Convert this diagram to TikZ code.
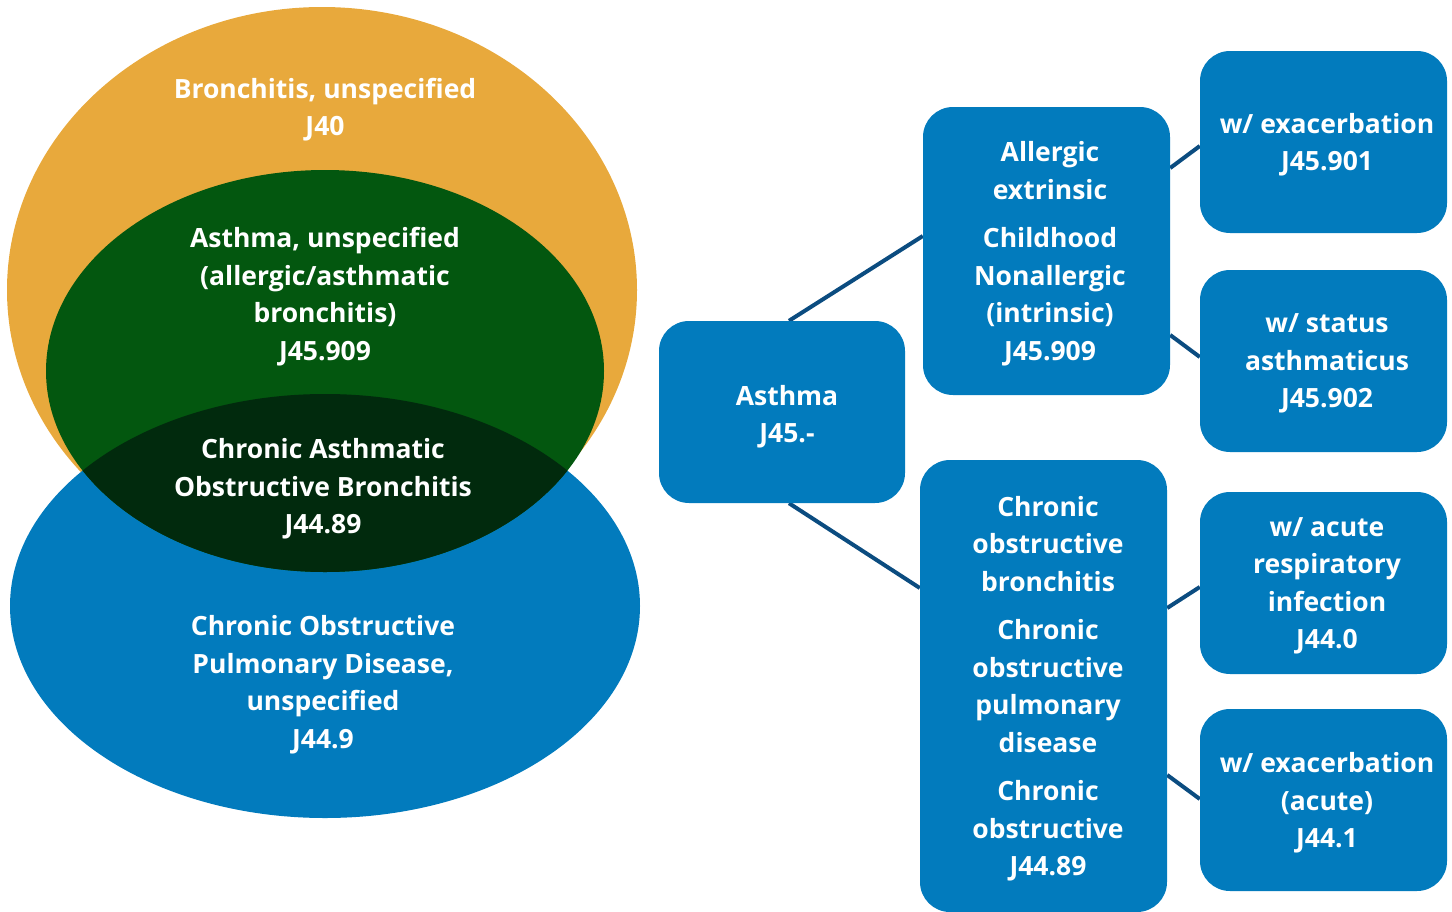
\documentclass[tikz,border=0pt]{standalone}
\usepackage{fontspec}
\setmainfont{Open Sans}
\usetikzlibrary{backgrounds}
\definecolor{orng}{HTML}{E8A93C}
\definecolor{grn}{HTML}{03570F}
\definecolor{dgrn}{HTML}{012A0D}
\definecolor{cblue}{HTML}{027BBD}
\definecolor{navy}{HTML}{0B4C80}
\tikzset{
 lbl/.style={text=white, font=\bfseries\fontsize{26.5}{37.5}\selectfont, align=center, inner sep=0pt, text depth=0pt},
 box/.style={fill=cblue, rounded corners=30pt, minimum width=247pt, minimum height=182pt, inner sep=0pt},
 link/.style={draw=navy, line width=4pt},
}
\begin{document}
\begin{tikzpicture}[x=1pt,y=-1pt]
\useasboundingbox (0,0) rectangle (1452,911);
% Venn diagram
\fill[orng] (322,290) ellipse [x radius=315pt, y radius=283pt];
\fill[cblue] (325,606) ellipse [x radius=315pt, y radius=212pt];
\fill[grn] (325,371) ellipse [x radius=279pt, y radius=201pt];
\begin{scope}
\clip (325,606) ellipse [x radius=315pt, y radius=212pt];
\fill[dgrn] (325,371) ellipse [x radius=279pt, y radius=201pt];
\end{scope}
\node[lbl] (bron) at (325,107) {Bronchitis, unspecified\\J40};
\node[lbl] (asu) at (325,294) {Asthma, unspecified\\(allergic/asthmatic\\bronchitis)\\J45.909};
\node[lbl] (caob) at (323,486) {Chronic Asthmatic\\Obstructive Bronchitis\\J44.89};
\node[lbl] (copdu) at (323,682) {Chronic Obstructive\\Pulmonary Disease,\\unspecified\\J44.9};
% tree boxes
\node[box, minimum width=246pt] (asthma) at (782,412) {};
\node[box, minimum height=288pt] (allergic) at (1046.5,251) {};
\node[box, minimum height=452pt] (copd) at (1043.5,686) {};
\node[box] (exa) at (1323.5,142) {};
\node[box] (stat) at (1323.5,361) {};
\node[box] (ari) at (1323.5,583) {};
\node[box] (exb) at (1323.5,800) {};
% texts
\node[lbl] (asthmaT) at ([xshift=5pt,yshift=-2pt]asthma.center) {Asthma\\J45.-};
\node[lbl] (allergicT) at ([xshift=3.5pt]allergic.center) {Allergic\\extrinsic\\[11pt]Childhood\\Nonallergic\\(intrinsic)\\J45.909};
\node[lbl] (copdT) at ([xshift=4.5pt]copd.center) {Chronic\\obstructive\\bronchitis\\[11pt]Chronic\\obstructive\\pulmonary\\disease\\[11pt]Chronic\\obstructive\\J44.89};
\node[lbl] (exaT) at ([xshift=3.5pt]exa.center) {w/ exacerbation\\J45.901};
\node[lbl] (statT) at ([xshift=3.5pt]stat.center) {w/ status\\asthmaticus\\J45.902};
\node[lbl] (ariT) at ([xshift=3.5pt]ari.center) {w/ acute\\respiratory\\infection\\J44.0};
\node[lbl] (exbT) at ([xshift=3.5pt]exb.center) {w/ exacerbation\\(acute)\\J44.1};
\begin{pgfonlayer}{background}
\draw[link] ([xshift=7pt]asthma.north) -- ([yshift=15pt]allergic.west);
\draw[link] ([xshift=7pt]asthma.south) -- ([yshift=98pt]copd.west);
\draw[link] ([yshift=83pt]allergic.east) -- ([yshift=-4pt]exa.west);
\draw[link] ([yshift=-84pt]allergic.east) -- ([yshift=4pt]stat.west);
\draw[link] ([yshift=78pt]copd.east) -- ([yshift=-4pt]ari.west);
\draw[link] ([yshift=-89pt]copd.east) -- ([yshift=1pt]exb.west);
\end{pgfonlayer}
\end{tikzpicture}
\end{document}
